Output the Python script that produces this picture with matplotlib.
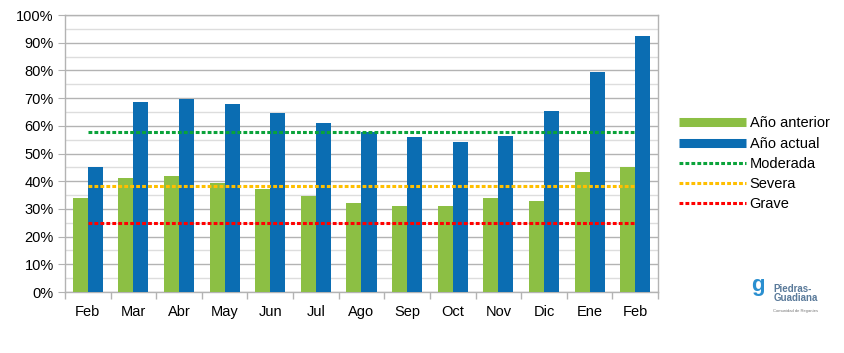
import matplotlib
matplotlib.use("Agg")
import matplotlib.pyplot as plt
import numpy as np
from matplotlib.ticker import FixedLocator, MultipleLocator, PercentFormatter
from matplotlib.lines import Line2D

plt.rcParams['font.family'] = ['Liberation Sans', 'DejaVu Sans']

months = ["Feb", "Mar", "Abr", "May", "Jun", "Jul", "Ago", "Sep", "Oct", "Nov", "Dic", "Ene", "Feb"]
anterior = [33.9, 41.2, 41.9, 39.4, 37.2, 34.7, 32.1, 31.0, 31.0, 33.9, 32.9, 43.3, 45.1]
actual = [45.1, 68.6, 69.7, 67.9, 64.6, 61.0, 57.8, 56.0, 54.2, 56.3, 65.3, 79.4, 92.4]
moderada = 57.6
severa = 38.3
grave = 24.9

fig = plt.figure(figsize=(8.45, 3.53), dpi=100)
ax = fig.add_axes([0.0769, 0.1728, 0.7018, 0.7847])

x = np.arange(len(months))
w = 0.33
ax.bar(x - w / 2, anterior, w, color="#8cbf44", label="Año anterior", zorder=3)
ax.bar(x + w / 2, actual, w, color="#0b6db2", label="Año actual", zorder=3)

dash = (0, (1.25, 0.7))
ax.plot([x[0], x[-1]], [moderada, moderada], color="#0aa33a", lw=2.2, linestyle=dash, label="Moderada", zorder=4)
ax.plot([x[0], x[-1]], [severa, severa], color="#ffbf00", lw=2.2, linestyle=dash, label="Severa", zorder=4)
ax.plot([x[0], x[-1]], [grave, grave], color="#ff0000", lw=2.2, linestyle=dash, label="Grave", zorder=4)

ax.set_xlim(-0.5, len(months) - 0.5)
ax.set_ylim(0, 100)
ax.yaxis.set_major_locator(MultipleLocator(10))
ax.yaxis.set_minor_locator(MultipleLocator(5))
ax.yaxis.set_major_formatter(PercentFormatter(decimals=0))
ax.grid(axis="y", which="major", color="#b3b3b3", lw=1.0, zorder=0)
ax.grid(axis="y", which="minor", color="#dddddd", lw=1.0, zorder=0)

ax.set_xticks(x)
ax.set_xticklabels(months)
ax.xaxis.set_minor_locator(FixedLocator(np.arange(-0.5, len(months), 1.0)))
ax.tick_params(axis="x", which="major", length=0, pad=9, labelsize=10.5)
ax.tick_params(axis="x", which="minor", length=5, color="#b3b3b3", width=1)
ax.tick_params(axis="y", which="major", length=5, color="#b3b3b3", labelsize=10.5, pad=3)
ax.tick_params(axis="y", which="minor", length=0)
for s in ax.spines.values():
    s.set_color("#b3b3b3")
    s.set_linewidth(1)

handles, labels = ax.get_legend_handles_labels()
h2 = [Line2D([0], [0], color="#8cbf44", lw=6.5, solid_capstyle="butt"),
      Line2D([0], [0], color="#0b6db2", lw=6.5, solid_capstyle="butt")] + handles[:3]
leg = fig.legend(h2, ["Año anterior", "Año actual", "Moderada", "Severa", "Grave"],
                 loc="upper left", bbox_to_anchor=(0.803, 0.670), frameon=False,
                 fontsize=10.5, handlelength=4.6, handletextpad=0.27, labelspacing=0.42,
                 borderaxespad=0, borderpad=0)

fig.text(0.915, 0.168, "Piedras-\nGuadiana", color="#5a7a9a", fontsize=7, fontweight="bold",
         ha="left", va="center", linespacing=0.8)
fig.text(0.915, 0.118, "Comunidad de Regantes", color="#777777", fontsize=3, ha="left", va="center")
fig.text(0.905, 0.19, "g", color="#2a8fd0", fontsize=16, fontweight="bold", ha="right", va="center")

fig.savefig("out.png", dpi=100)
